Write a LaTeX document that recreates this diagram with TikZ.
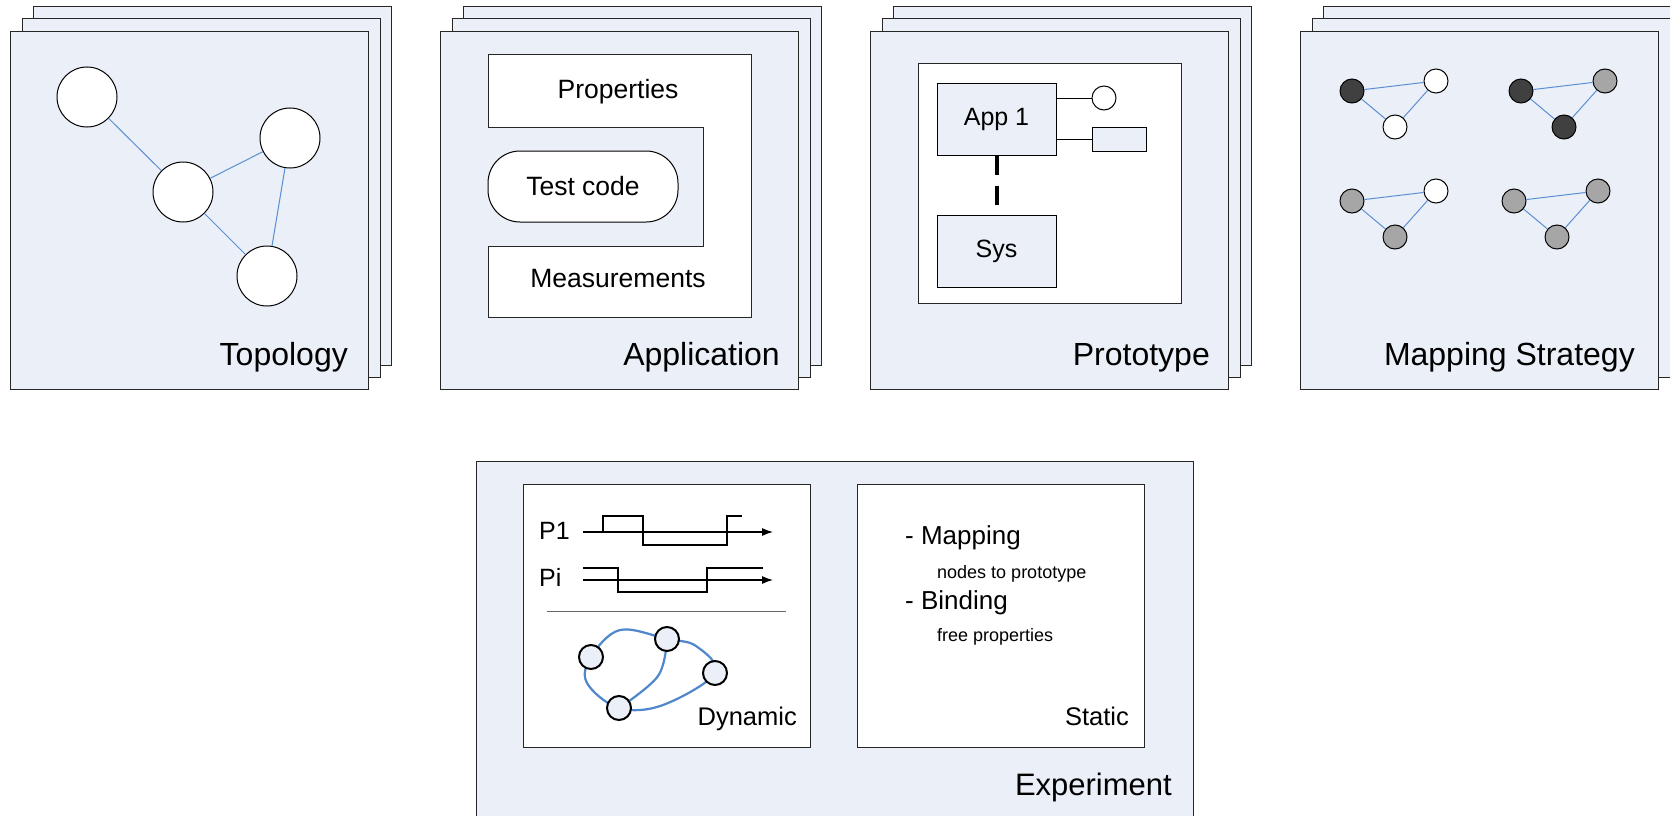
\documentclass[tikz,border=0pt]{standalone}
\usepackage{fontspec}
\setmainfont{Liberation Sans}
\usetikzlibrary{arrows.meta}
\definecolor{panelfill}{HTML}{EAEFF8}
\definecolor{edgeblue}{HTML}{5B8FD3}
\definecolor{curveblue}{HTML}{4F86CC}
\definecolor{darknode}{HTML}{404040}
\definecolor{graynode}{HTML}{A6A6A6}
\tikzset{
  panel/.style={draw=black!85, line width=1pt, fill=panelfill},
  panelnode/.style={panel, anchor=north west, inner sep=0pt, outer sep=0pt},
  whitebox/.style={draw=black!85, line width=1pt, fill=white},
  lbl/.style={font=\fontsize{32}{36}\selectfont, inner sep=0pt, anchor=base east},
  txt/.style={font=\fontsize{26.5}{30}\selectfont, inner sep=0pt, anchor=base},
  tnode/.style={circle, draw, line width=1pt, fill=white, minimum size=60pt, inner sep=0pt},
  mnode/.style={circle, draw, line width=1pt, minimum size=24pt, inner sep=0pt},
  dnode/.style={circle, draw, line width=2pt, fill=panelfill, minimum size=24pt, inner sep=0pt},
  edge/.style={edgeblue, line width=1pt},
  bluebox/.style={draw, line width=1pt, fill=panelfill, inner sep=0pt, font=\fontsize{25}{30}\selectfont},
  sig/.style={line width=2.6pt},
  axis/.style={line width=1.2pt, -{Latex[length=11pt,width=8pt]}},
}
\begin{document}
\begin{tikzpicture}[x=1pt,y=-1pt]
\useasboundingbox (0,0) rectangle (1670,816);
\clip (0,0) rectangle (1670,816);
\fill[white] (0,0) rectangle (1670,816);

% stacked panels
\foreach \x/\n in {10/topo,440/appl,870/proto,1300/mapp}{
  \draw[panel] (\x+23,7) rectangle (\x+381,365);
  \draw[panel] (\x+12,19) rectangle (\x+370,377);
  \node[panelnode, minimum width=358pt, minimum height=357pt] (\n) at (\x,32) {};
}

% Topology
\node[tnode] (t1) at (87,97) {};
\node[tnode] (t2) at (183,192) {};
\node[tnode] (t3) at (290,138) {};
\node[tnode] (t4) at (267,276) {};
\draw[edge] (t1) -- (t2);
\draw[edge] (t2) -- (t3);
\draw[edge] (t2) -- (t4);
\draw[edge] (t3) -- (t4);
\node[lbl] (topolbl) at (348,365) {Topology};

% Application
\draw[whitebox] (488,55) -- (751,55) -- (751,317) -- (488,317) -- (488,246) -- (703,246) -- (703,127) -- (488,127) -- cycle;
\node[txt] (props) at (618,99) {Properties};
\node[draw, line width=1pt, fill=white, rounded corners=32pt, minimum width=190pt, minimum height=71pt, inner sep=0pt, font=\fontsize{26.5}{30}\selectfont] (test) at (583,186.5) {Test code};
\node[txt] (meas) at (618,287) {Measurements};
\node[lbl] (applbl) at (780,365) {Application};

% Prototype
\draw[whitebox] (918,64) rectangle (1181,303);
\node[bluebox, minimum width=119pt, minimum height=72pt] (app1) at (996.5,119) {App 1};
\node[bluebox, minimum width=119pt, minimum height=72pt] (sys) at (996.5,251) {Sys};
\draw[line width=4pt, dash pattern=on 19pt off 11pt] (app1.south) -- (sys.north);
\node[circle, draw, line width=1pt, fill=white, minimum size=24pt, inner sep=0pt] (port) at (1104,98) {};
\node[draw, line width=1pt, fill=panelfill, minimum width=54pt, minimum height=24pt, inner sep=0pt] (iface) at (1119,139) {};
\draw[line width=1pt] (port.west -| app1.east) -- (port.west);
\draw[line width=1pt] (iface.west -| app1.east) -- (iface.west);
\node[lbl] (protolbl) at (1210,365) {Prototype};

% Mapping Strategy
\foreach \g/\dx/\dy/\fa/\fb/\fc in {1/0/0/darknode/white/white, 2/169/0/darknode/graynode/darknode, 3/0/110/graynode/white/graynode, 4/162/110/graynode/graynode/graynode}{
  \node[mnode, fill=\fa] (m\g a) at (1352+\dx,91+\dy) {};
  \node[mnode, fill=\fb] (m\g b) at (1436+\dx,81+\dy) {};
  \node[mnode, fill=\fc] (m\g c) at (1395+\dx,127+\dy) {};
  \draw[edge] (m\g a) -- (m\g b);
  \draw[edge] (m\g a) -- (m\g c);
  \draw[edge] (m\g c) -- (m\g b);
}
\node[lbl] (maplbl) at (1635,365) {Mapping Strategy};

% Experiment
\node[panelnode, minimum width=717pt, minimum height=380pt] (exp) at (476,461) {};
\node[whitebox, anchor=north west, minimum width=287pt, minimum height=263pt, inner sep=0pt, outer sep=0pt] (dyn) at (523,484) {};
\node[whitebox, anchor=north west, minimum width=287pt, minimum height=263pt, inner sep=0pt, outer sep=0pt] (stat) at (857,484) {};

% signals
\node[font=\fontsize{25}{30}\selectfont, inner sep=0pt, anchor=base west] (p1) at (539,539) {P1};
\node[font=\fontsize{25}{30}\selectfont, inner sep=0pt, anchor=base west] (pi) at (539,586) {Pi};
\coordinate (a1s) at (583,532);
\coordinate (a1e) at (773,532);
\coordinate (a2s) at (583,580);
\coordinate (a2e) at (773,580);
\draw[axis] (a1s) -- (a1e);
\draw[axis] (a2s) -- (a2e);
\draw[sig] (583,532) -- (603,532) -- (603,516) -- (643,516) -- (643,545) -- (727,545) -- (727,516) -- (742,516);
\draw[sig] (583,568) -- (618,568) -- (618,592) -- (707,592) -- (707,568) -- (763,568);
\coordinate (sepl) at (547,611);
\coordinate (sepr) at (786,611);
\draw[black!60, line width=1pt] (sepl) -- (sepr);

% dynamic graph
\draw[curveblue, line width=2.2pt] plot[smooth cycle, tension=0.6] coordinates {(591,657) (620,630) (667,639) (696,646) (715,673) (663,705) (619,708) (587,683)};
\draw[curveblue, line width=2.2pt] plot[smooth, tension=0.6] coordinates {(667,639) (658,676) (619,708)};
\node[dnode] (d1) at (591,657) {};
\node[dnode] (d2) at (667,639) {};
\node[dnode] (d3) at (715,673) {};
\node[dnode] (d4) at (619,708) {};
\node[font=\fontsize{25.5}{30}\selectfont, inner sep=0pt, anchor=base east] (dynlbl) at (797,725) {Dynamic};

% static
\node[font=\fontsize{26}{30}\selectfont, inner sep=0pt, anchor=base west] (smap) at (905,544) {- Mapping};
\node[font=\fontsize{18}{22}\selectfont, inner sep=0pt, anchor=base west] (snodes) at (937,578) {nodes to prototype};
\node[font=\fontsize{26}{30}\selectfont, inner sep=0pt, anchor=base west] (sbind) at (905,609) {- Binding};
\node[font=\fontsize{18}{22}\selectfont, inner sep=0pt, anchor=base west] (sfree) at (937,641) {free properties};
\node[font=\fontsize{25.5}{30}\selectfont, inner sep=0pt, anchor=base east] (statlbl) at (1129,725) {Static};

\node[font=\fontsize{31}{36}\selectfont, inner sep=0pt, anchor=base east] (explbl) at (1172,795) {Experiment};
\end{tikzpicture}
\end{document}
